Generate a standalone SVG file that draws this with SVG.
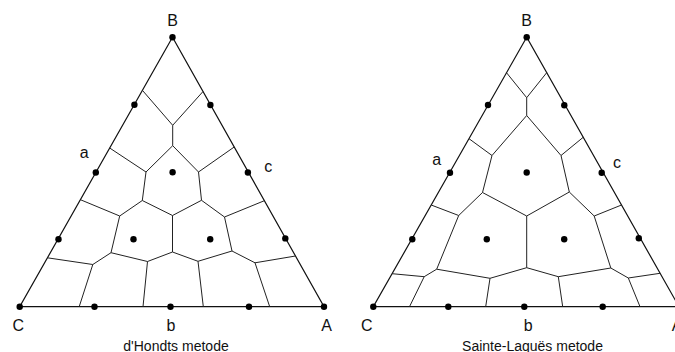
<svg xmlns="http://www.w3.org/2000/svg" width="675" height="352" viewBox="0 0 675 352">
<style>
.tri{fill:none;stroke:#111;stroke-width:1.2;stroke-linejoin:miter}
.edge{fill:none;stroke:#222;stroke-width:1;stroke-linejoin:round}
.dot{fill:#000}
.lbl{font-family:"Liberation Sans",Arial,sans-serif;font-size:16px;fill:#111;text-anchor:middle}
.cap{font-family:"Liberation Sans",Arial,sans-serif;font-size:14px;fill:#111;text-anchor:middle}
</style>
<rect width="675" height="352" fill="#fff"/>

<g id="dhondt">
  <g id="dhondt-edges">
    <polygon class="tri" points="172.5,37.3 19.7,306.7 324,306.7"/>
    <polyline class="edge" points="142.4,90.3 172.7,125.3 203,91.5"/>
    <polyline class="edge" points="172.7,125.3 172.7,145.7"/>
    <polyline class="edge" points="109.7,148 146,172 172.7,145.7 198.5,172 234.2,147"/>
    <polyline class="edge" points="146,172 142.3,200.5 172.5,215.5 201.5,200.3 198.5,172"/>
    <polyline class="edge" points="80.4,199.7 119.7,216 142.3,200.5"/>
    <polyline class="edge" points="264.4,200.7 224.5,217 201.5,200.3"/>
    <polyline class="edge" points="119.7,216 111,252.7 147.5,261.5 172.5,252 198,261.3 232,251 224.5,217"/>
    <polyline class="edge" points="172.5,215.5 172.5,252"/>
    <polyline class="edge" points="47.4,257.8 92.8,264.5 111,252.7"/>
    <polyline class="edge" points="92.8,264.5 79.2,306.7"/>
    <polyline class="edge" points="147.5,261.5 143,306.7"/>
    <polyline class="edge" points="198,261.3 203.3,306.7"/>
    <polyline class="edge" points="232,251 255,262.8 295.5,256"/>
    <polyline class="edge" points="255,262.8 269.7,306.7"/>
  </g>
  <g id="dhondt-points">
    <circle class="dot" cx="172.5" cy="37.3" r="3.2"/>
    <circle class="dot" cx="134.4" cy="104.8" r="3.2"/>
    <circle class="dot" cx="210.4" cy="105" r="3.2"/>
    <circle class="dot" cx="95.8" cy="172.5" r="3.2"/>
    <circle class="dot" cx="172.6" cy="172.3" r="3.2"/>
    <circle class="dot" cx="247.9" cy="172.5" r="3.2"/>
    <circle class="dot" cx="58.5" cy="239.2" r="3.2"/>
    <circle class="dot" cx="133.5" cy="239.2" r="3.2"/>
    <circle class="dot" cx="210.2" cy="239.2" r="3.2"/>
    <circle class="dot" cx="285.3" cy="238.4" r="3.2"/>
    <circle class="dot" cx="19.7" cy="306.7" r="3.2"/>
    <circle class="dot" cx="94.5" cy="306.7" r="3.2"/>
    <circle class="dot" cx="170.5" cy="306.7" r="3.2"/>
    <circle class="dot" cx="249" cy="306.7" r="3.2"/>
    <circle class="dot" cx="324" cy="306.7" r="3.2"/>
  </g>
  <g id="dhondt-labels">
    <text class="lbl" x="172.7" y="25.5">B</text>
    <text class="lbl" x="84.3" y="158">a</text>
    <text class="lbl" x="268.3" y="171.5">c</text>
    <text class="lbl" x="18.3" y="331">C</text>
    <text class="lbl" x="171" y="330.5">b</text>
    <text class="lbl" x="326.7" y="331">A</text>
    <text class="cap" x="176" y="350.5">d'Hondts metode</text>
  </g>
</g>

<g id="sainte-lague">
  <g id="sainte-lague-edges">
    <polygon class="tri" points="526.7,37.3 373.3,306.7 679,306.7"/>
    <polyline class="edge" points="506.5,72.7 526.7,97.7 546.7,72.7"/>
    <polyline class="edge" points="526.7,97.7 526.7,115.5"/>
    <polyline class="edge" points="469,138.7 492,155.5 526.7,115.5 561,155.5 583.2,137.3"/>
    <polyline class="edge" points="492,155.5 482.5,192.5 526.7,216 569.3,192 561,155.5"/>
    <polyline class="edge" points="431.2,205 458.7,215.5 482.5,192.5"/>
    <polyline class="edge" points="621.5,205 594.2,216 569.3,192"/>
    <polyline class="edge" points="458.7,215.5 436.7,269.2 490,278.3 526.7,267.7 558.3,276.7 610.8,268 594.2,216"/>
    <polyline class="edge" points="526.7,216 526.7,267.7"/>
    <polyline class="edge" points="392.1,273.7 424.2,276.7 436.7,269.2"/>
    <polyline class="edge" points="424.2,276.7 409.5,306.7"/>
    <polyline class="edge" points="490,278.3 485.7,306.7"/>
    <polyline class="edge" points="558.3,276.7 562.7,306.7"/>
    <polyline class="edge" points="610.8,268 628.3,278 660.1,273.3"/>
    <polyline class="edge" points="628.3,278 640,306.7"/>
  </g>
  <g id="sainte-lague-points">
    <circle class="dot" cx="526.7" cy="37.3" r="3.2"/>
    <circle class="dot" cx="488" cy="105" r="3.2"/>
    <circle class="dot" cx="564.3" cy="105.3" r="3.2"/>
    <circle class="dot" cx="450" cy="172.7" r="3.2"/>
    <circle class="dot" cx="526.7" cy="172.5" r="3.2"/>
    <circle class="dot" cx="601.7" cy="172.7" r="3.2"/>
    <circle class="dot" cx="412.3" cy="239.2" r="3.2"/>
    <circle class="dot" cx="486.8" cy="239.2" r="3.2"/>
    <circle class="dot" cx="564.2" cy="239.2" r="3.2"/>
    <circle class="dot" cx="638.8" cy="238.2" r="3.2"/>
    <circle class="dot" cx="373.3" cy="306.7" r="3.2"/>
    <circle class="dot" cx="448.3" cy="306.7" r="3.2"/>
    <circle class="dot" cx="524.3" cy="306.7" r="3.2"/>
    <circle class="dot" cx="602.7" cy="306.7" r="3.2"/>
    <circle class="dot" cx="679" cy="306.7" r="3.2"/>
  </g>
  <g id="sainte-lague-labels">
    <text class="lbl" x="526.7" y="25.5">B</text>
    <text class="lbl" x="436.7" y="165">a</text>
    <text class="lbl" x="617" y="168">c</text>
    <text class="lbl" x="366.7" y="331">C</text>
    <text class="lbl" x="528.3" y="330.5">b</text>
    <text class="lbl" x="677" y="331">A</text>
    <text class="cap" x="532.5" y="350.5">Sainte-Laquës metode</text>
  </g>
</g>
</svg>
